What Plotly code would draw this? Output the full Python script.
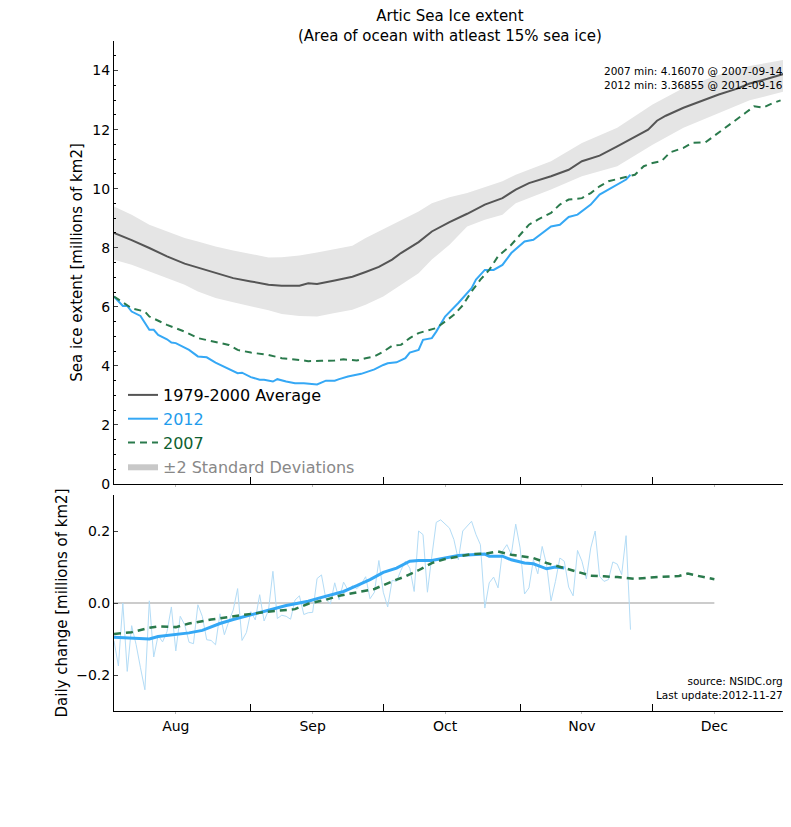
import pandas as pd
import plotly.graph_objects as go
from plotly.subplots import make_subplots

# --- data (day offsets from 1 Aug) ---
START = "2012-08-01"

avg_days = [0, 4, 8, 12, 16, 19, 23, 27, 31, 35, 38, 42, 44, 46, 50, 54, 57, 60, 63, 65,
            69, 72, 76, 80, 84, 88, 91, 94, 99, 103, 106, 110, 114, 118, 121, 123, 125, 129, 133, 137,
            141, 144, 148, 152]
avg_vals = [8.50, 8.26, 7.99, 7.71, 7.46, 7.32, 7.15, 6.97, 6.86, 6.75, 6.71, 6.71, 6.80, 6.77, 6.89, 7.02, 7.18, 7.35, 7.60, 7.82,
            8.19, 8.55, 8.87, 9.15, 9.46, 9.68, 9.97, 10.19, 10.42, 10.64, 10.93, 11.12, 11.43, 11.77, 12.00, 12.30, 12.47, 12.74, 12.96, 13.19,
            13.38, 13.56, 13.72, 13.90]

band_days = [0, 4, 8, 12, 16, 19, 23, 27, 31, 35, 38, 42, 46, 50, 54, 57, 61, 65, 69, 72,
             76, 80, 84, 88, 91, 99, 106, 114, 122, 129, 137, 144, 152]
band_hi = [9.40, 9.12, 8.78, 8.55, 8.33, 8.21, 8.04, 7.91, 7.80, 7.67, 7.68, 7.74, 7.84, 7.96, 8.07, 8.33, 8.63, 8.93, 9.23, 9.51,
           9.71, 9.85, 10.04, 10.25, 10.47, 10.93, 11.55, 12.06, 12.85, 13.41, 13.86, 14.15, 14.37]
band_lo = [7.59, 7.42, 7.20, 6.97, 6.75, 6.52, 6.30, 6.15, 6.01, 5.88, 5.76, 5.69, 5.67, 5.79, 5.90, 6.07, 6.35, 6.75, 7.14, 7.60,
           8.10, 8.72, 8.95, 9.12, 9.51, 9.97, 10.42, 10.76, 11.49, 12.06, 12.56, 12.99, 13.30]

y12_days = [0, 2, 3, 4, 6, 7, 8, 9, 10, 12, 13, 14, 16, 17, 19, 21, 23, 25, 27, 28,
            29, 31, 33, 34, 36, 37, 39, 41, 43, 44, 46, 48, 50, 51, 53, 56, 58, 59, 61, 62,
            64, 66, 67, 69, 70, 72, 73, 75, 78, 79, 81, 82, 84, 86, 88, 90, 93, 95, 97, 99,
            101, 103, 105, 107, 108, 110, 112, 114, 116, 117]
y12_vals = [6.35, 6.03, 6.03, 5.84, 5.69, 5.45, 5.22, 5.22, 5.05, 4.90, 4.79, 4.77, 4.63, 4.54, 4.32, 4.29, 4.11, 3.96, 3.81, 3.75,
            3.77, 3.62, 3.53, 3.53, 3.47, 3.55, 3.47, 3.41, 3.41, 3.39, 3.37, 3.50, 3.50, 3.55, 3.64, 3.73, 3.84, 3.88, 4.03, 4.09,
            4.12, 4.26, 4.45, 4.54, 4.88, 4.94, 5.16, 5.67, 6.13, 6.30, 6.63, 6.92, 7.25, 7.25, 7.42, 7.82, 8.21, 8.27, 8.50, 8.72,
            8.78, 9.04, 9.12, 9.35, 9.46, 9.80, 9.97, 10.14, 10.31, 10.47]

y07_days = [0, 4, 7, 8, 12, 16, 19, 23, 26, 28, 31, 35, 38, 42, 44, 47, 50, 52, 55, 57,
            59, 61, 63, 65, 67, 69, 72, 73, 75, 77, 79, 81, 83, 85, 87, 90, 92, 94, 96, 99,
            101, 103, 106, 108, 110, 112, 115, 118, 120, 122, 124, 126, 129, 131, 134, 137, 139, 141, 143, 145,
            147, 149, 151]
y07_vals = [6.35, 5.95, 5.84, 5.67, 5.39, 5.16, 4.94, 4.82, 4.71, 4.54, 4.45, 4.37, 4.26, 4.20, 4.16, 4.17, 4.18, 4.22, 4.18, 4.26,
            4.32, 4.48, 4.68, 4.71, 4.94, 5.11, 5.22, 5.28, 5.50, 5.73, 6.05, 6.52, 6.92, 7.25, 7.71, 8.10, 8.44, 8.78, 8.95, 9.18,
            9.46, 9.63, 9.68, 9.85, 10.08, 10.25, 10.36, 10.47, 10.76, 10.87, 10.93, 11.23, 11.38, 11.55, 11.57, 11.89, 12.11, 12.34, 12.56, 12.79,
            12.74, 12.88, 12.99]

# daily change 2012, one value per day from 1 Aug
raw12_vals = [-0.105, -0.175, 0.000, -0.190, -0.063, -0.115, -0.180, -0.241, 0.006, -0.150,
              -0.090, -0.108, -0.080, -0.011, -0.133, -0.037, -0.060, -0.109, -0.113, -0.005,
              -0.037, -0.102, -0.104, -0.116, -0.030, -0.088, -0.051, -0.020, 0.040, -0.104,
              -0.082, -0.024, -0.047, 0.023, -0.050, -0.020, 0.088, -0.043, -0.034, -0.037,
              -0.045, 0.008, 0.020, -0.032, -0.027, -0.026, 0.068, 0.078, 0.011, -0.003,
              0.056, 0.009, 0.058, 0.036, 0.048, 0.040, 0.052, 0.073, 0.012, 0.030,
              0.118, 0.030, -0.011, 0.063, 0.060, 0.091, 0.116, 0.097, 0.032, 0.200,
              0.190, 0.030, 0.130, 0.224, 0.231, 0.218, 0.208, 0.176, 0.120, 0.200,
              0.213, 0.227, 0.190, 0.162, -0.014, 0.056, 0.072, 0.042, 0.144, 0.162,
              0.135, 0.219, 0.153, 0.025, 0.042, 0.120, 0.081, 0.157, 0.106, 0.006,
              0.060, 0.125, 0.116, 0.044, 0.020, 0.146, 0.116, 0.067, 0.153, 0.200,
              0.074, 0.060, 0.065, 0.114, 0.108, 0.079, 0.187, -0.074]

s12_days = [0, 4, 8, 10, 14, 17, 20, 24, 27, 31, 35, 39, 44, 46, 49, 52, 55, 58, 61, 64,
            67, 69, 72, 75, 78, 81, 84, 85, 88, 90, 93, 95, 98, 100, 102]
s12_vals = [-0.095, -0.098, -0.100, -0.093, -0.088, -0.083, -0.076, -0.057, -0.046, -0.032,
            -0.020, -0.007, 0.005, 0.012, 0.021, 0.032, 0.048, 0.065, 0.085, 0.097,
            0.116, 0.118, 0.118, 0.125, 0.132, 0.134, 0.136, 0.130, 0.130, 0.120,
            0.111, 0.109, 0.095, 0.100, 0.097]

s07_days = [0, 4, 8, 10, 14, 17, 22, 26, 30, 34, 38, 41, 44, 48, 51, 55, 59, 63, 66, 69,
            72, 75, 78, 81, 84, 87, 90, 92, 95, 98, 103, 105, 108, 111, 114, 118, 121, 124, 128, 130,
            132, 136]
s07_vals = [-0.086, -0.081, -0.069, -0.065, -0.067, -0.057, -0.046, -0.040, -0.032, -0.025,
            -0.021, -0.017, -0.002, 0.009, 0.020, 0.030, 0.039, 0.060, 0.074, 0.091,
            0.111, 0.122, 0.130, 0.136, 0.137, 0.143, 0.134, 0.131, 0.125, 0.111,
            0.093, 0.085, 0.076, 0.074, 0.072, 0.067, 0.071, 0.073, 0.075, 0.082,
            0.076, 0.066]

zero_days = [0, 136]
zero_vals = [0.0, 0.0]

month_labels = ["Aug", "Sep", "Oct", "Nov", "Dec"]
month_mid = ["2012-08-15", "2012-09-15", "2012-10-15", "2012-11-15", "2012-12-15"]
month_start = ["2012-09-01", "2012-10-01", "2012-11-01", "2012-12-01"]
x_range = ["2012-08-01", "2012-12-31"]

title_text = "Artic Sea Ice extent<br>(Area of ocean with atleast 15% sea ice)"
min_note = "2007 min: 4.16070 @ 2007-09-14<br>2012 min: 3.36855 @ 2012-09-16"
source_note = "source: NSIDC.org<br>Last update:2012-11-27"

GRAY_LINE = "#555555"
BLUE = "#35a8f5"
GREEN = "#2a7a4c"
BAND = "#e5e5e5"
FONT = "DejaVu Sans"

# page body adds an 8px margin, so the figure is 8px smaller than the window
W, H = 783, 819
PLOT_LEFT, PLOT_RIGHT = 106, 777          # figure pixels
PLOT_TOP, PLOT_BOTTOM = 33, 703
PLOT_H = PLOT_BOTTOM - PLOT_TOP


def to_dates(days):
    return pd.Timestamp(START) + pd.to_timedelta(days, unit="D")


def paper_y(px):
    return (PLOT_BOTTOM - px) / PLOT_H


def paper_x(px):
    return (px - PLOT_LEFT) / (PLOT_RIGHT - PLOT_LEFT)


fig = make_subplots(rows=2, cols=1, shared_xaxes=True)

# +-2 std band as a closed polygon
band_x = list(to_dates(band_days)) + list(to_dates(band_days[::-1]))
band_y = band_hi + band_lo[::-1]
fig.add_trace(go.Scatter(x=band_x, y=band_y, fill="toself", fillcolor=BAND,
                         line=dict(width=0), mode="lines", showlegend=False,
                         hoverinfo="skip"), row=1, col=1)

fig.add_trace(go.Scatter(x=to_dates(avg_days), y=avg_vals, mode="lines",
                         line=dict(color=GRAY_LINE, width=2),
                         name="1979-2000 Average", legendrank=1), row=1, col=1)
fig.add_trace(go.Scatter(x=to_dates(y12_days), y=y12_vals, mode="lines",
                         line=dict(color=BLUE, width=2),
                         name="<span style='color:#1f9cec'>2012</span>", legendrank=2), row=1, col=1)
fig.add_trace(go.Scatter(x=to_dates(y07_days), y=y07_vals, mode="lines",
                         line=dict(color=GREEN, width=2, dash="7px,5px"),
                         name="<span style='color:#0f6030'>2007</span>", legendrank=3), row=1, col=1)
# legend entry for the band (darker patch, as in the reference legend)
fig.add_trace(go.Scatter(x=[None], y=[None], fill="toself", fillcolor="#c8c8c8",
                         line=dict(width=0), mode="lines",
                         name="<span style='color:#888888'>±2 Standard Deviations</span>",
                         legendrank=4), row=1, col=1)

# daily change panel
fig.add_trace(go.Scatter(x=to_dates(zero_days), y=zero_vals, mode="lines",
                         line=dict(color="#999999", width=1), showlegend=False), row=2, col=1)
fig.add_trace(go.Scatter(x=to_dates(list(range(len(raw12_vals)))), y=raw12_vals, mode="lines",
                         line=dict(color="#b3dcf6", width=1), showlegend=False), row=2, col=1)
fig.add_trace(go.Scatter(x=to_dates(s12_days), y=s12_vals, mode="lines",
                         line=dict(color=BLUE, width=3), showlegend=False), row=2, col=1)
fig.add_trace(go.Scatter(x=to_dates(s07_days), y=s07_vals, mode="lines",
                         line=dict(color=GREEN, width=2.5, dash="7px,5px"), showlegend=False), row=2, col=1)

fig.update_layout(
    width=W, height=H,
    margin=dict(l=PLOT_LEFT, r=W - PLOT_RIGHT, t=PLOT_TOP, b=H - PLOT_BOTTOM, autoexpand=False),
    paper_bgcolor="white", plot_bgcolor="white",
    font=dict(family=FONT, size=14, color="black"),
    legend=dict(x=paper_x(115), y=paper_y(370), xanchor="left", yanchor="top",
                bgcolor="rgba(0,0,0,0)", font=dict(size=16),
                itemwidth=30, tracegroupgap=0),
    showlegend=True,
)

axis_common = dict(showline=True, linecolor="black", linewidth=1, mirror=False,
                   showgrid=False, zeroline=False)
for r in (1, 2):
    fig.update_xaxes(row=r, col=1, range=x_range, type="date",
                     tickmode="array", tickvals=month_mid, ticktext=month_labels,
                     ticks="outside", ticklen=2, tickcolor="#bbbbbb",
                     minor=dict(tickmode="array", tickvals=month_start, ticks="inside",
                                ticklen=7, tickcolor="black"),
                     **axis_common)
fig.update_xaxes(row=1, col=1, showticklabels=False)
fig.update_xaxes(row=2, col=1, tickfont=dict(size=14))

fig.update_yaxes(row=1, col=1, range=[0, 15], dtick=2, tick0=0, ticks="inside", ticklen=4,
                 minor=dict(dtick=0.5, ticks="inside", ticklen=2, tickcolor="black"),
                 title=dict(text="Sea ice extent [millions of km2]", font=dict(size=15), standoff=6),
                 domain=[paper_y(476), 1.0], **axis_common)
fig.update_yaxes(row=2, col=1, range=[-0.3, 0.3], dtick=0.2, tick0=0, tickformat=".1f",
                 ticks="inside", ticklen=4,
                 title=dict(text="Daily change [millions of km2]", font=dict(size=15), standoff=4),
                 domain=[0.0, paper_y(487)], **axis_common)

fig.add_annotation(text=title_text, xref="paper", yref="paper", x=0.5, y=paper_y(18),
                   xanchor="center", yanchor="middle", align="center", showarrow=False,
                   font=dict(size=15))
fig.add_annotation(text=min_note, xref="paper", yref="paper", x=1.0, y=paper_y(55),
                   xanchor="right", yanchor="top", align="right", showarrow=False,
                   font=dict(size=10.5))
fig.add_annotation(text=source_note, xref="paper", yref="paper", x=1.0, y=paper_y(695),
                   xanchor="right", yanchor="bottom", align="right", showarrow=False,
                   font=dict(size=10.5))

fig.write_html("out.html")
